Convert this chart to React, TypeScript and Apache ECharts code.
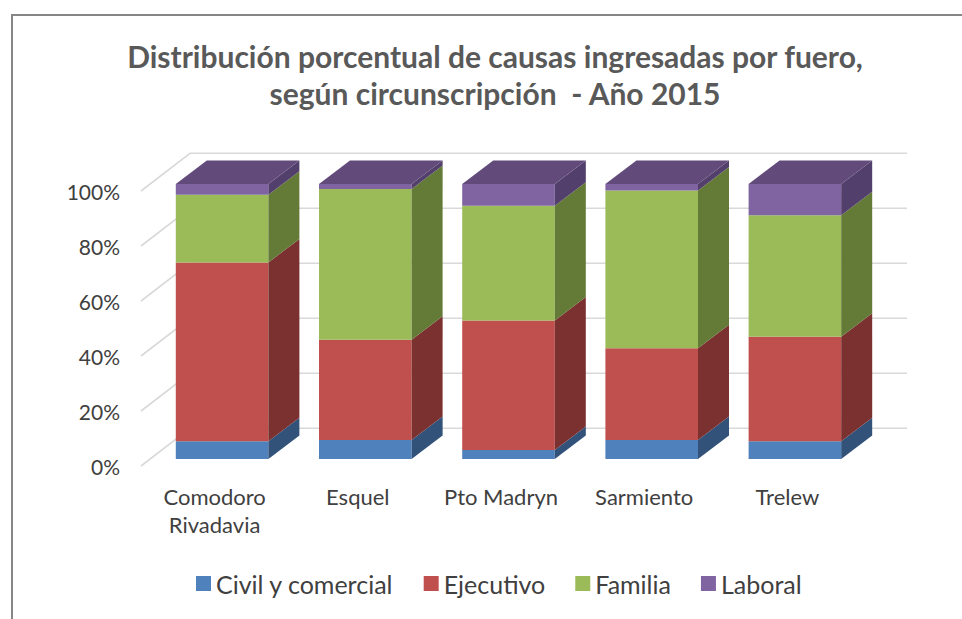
import React, { useEffect, useRef } from "react";
import * as echarts from "echarts";

const categories = ["Comodoro\nRivadavia", "Esquel", "Pto Madryn", "Sarmiento", "Trelew"];
const civil = [6.5, 6.9, 3.3, 6.9, 6.5];
const ejecutivo = [65.0, 36.5, 47.1, 33.4, 38.0];
const familia = [24.6, 54.8, 41.7, 57.3, 44.1];
const laboral = [3.9, 1.8, 7.9, 2.4, 11.4];
const gridTicks = [0, 20, 40, 60, 80, 100];
const seriesNames = ["Civil y comercial", "Ejecutivo", "Familia", "Laboral"];
const seriesValues = [civil, ejecutivo, familia, laboral];
const frontColors = ["#4F81BD", "#C0504D", "#9BBB59", "#8064A2"];
const sideColors = ["#32527A", "#7B3130", "#647A37", "#533F6B"];
const topColor = "#624B7A";

const FONT = "Lato, sans-serif";
const BAR_W = 92.6;
const DX = 31;
const DY = 23.5;
const OFF_X = 7.5;
const OFF_Y = 7;

function poly(points: number[][], fill: string) {
  return { type: "polygon", shape: { points }, style: { fill, stroke: "none" } };
}

export default function App() {
  const ref = useRef<HTMLDivElement>(null);
  useEffect(() => {
    const chart = echarts.init(ref.current!, undefined, { renderer: "svg" });

    const gridSeries = {
      type: "custom",
      silent: true,
      z: 1,
      data: gridTicks.map((t) => [0, t]),
      encode: { x: 0, y: 1 },
      renderItem: (params: any, api: any) => {
        const cs = params.coordSys;
        const p = api.coord([0, api.value(1)]);
        const y = p[1];
        const x0 = cs.x - 2;
        const x1 = x0 + 49;
        const y1 = y - 37.7;
        return {
          type: "polyline",
          shape: { points: [[x0, y], [x1, y1], [907, y1]] },
          style: { fill: "none", stroke: "#D9D9D9", lineWidth: 1.6 },
        };
      },
    };

    const barSeries = seriesNames.map((name, si) => ({
      type: "custom",
      name,
      z: 2,
      itemStyle: { color: frontColors[si] },
      encode: { x: 0, y: [1, 2] },
      data: categories.map((_, ci) => {
        let start = 0;
        for (let k = 0; k < si; k++) start += seriesValues[k][ci];
        return [ci, start, start + seriesValues[si][ci]];
      }),
      renderItem: (_p: any, api: any) => {
        const a = api.coord([api.value(0), api.value(1)]);
        const b = api.coord([api.value(0), api.value(2)]);
        const l = a[0] + OFF_X - BAR_W / 2;
        const r = l + BAR_W;
        const y0 = a[1] - OFF_Y;
        const y1 = b[1] - OFF_Y;
        const children: any[] = [
          poly([[l, y0], [r, y0], [r, y1], [l, y1]], frontColors[si]),
          poly([[r, y0], [r + DX, y0 - DY], [r + DX, y1 - DY], [r, y1]], sideColors[si]),
        ];
        if (si === seriesNames.length - 1) {
          children.push(poly([[l, y1], [r, y1], [r + DX, y1 - DY], [l + DX, y1 - DY]], topColor));
        }
        return { type: "group", children };
      },
    }));

    chart.setOption({
      animation: false,
      backgroundColor: "#FFFFFF",
      title: {
        text: "Distribución porcentual de causas ingresadas por fuero,\nsegún circunscripción  - Año 2015",
        left: 490,
        top: 32,
        textAlign: "center",
        textStyle: { fontFamily: FONT, fontSize: 30, fontWeight: "bold", color: "#595959", lineHeight: 37 },
      },
      legend: {
        data: seriesNames,
        left: 191,
        top: 566,
        itemWidth: 15,
        itemHeight: 15,
        itemGap: 30,
        icon: "rect",
        textStyle: { fontFamily: FONT, fontSize: 25, color: "#404040" },
      },
      grid: { left: 143, width: 716, top: 191, height: 275 },
      xAxis: {
        type: "category",
        data: categories,
        axisLine: { show: false },
        axisTick: { show: false },
        axisLabel: { fontFamily: FONT, fontSize: 22, color: "#404040", lineHeight: 28, margin: 16, interval: 0 },
      },
      yAxis: {
        type: "value",
        min: 0,
        max: 100,
        interval: 20,
        axisLine: { show: false },
        axisTick: { show: false },
        splitLine: { show: false },
        axisLabel: { fontFamily: FONT, fontSize: 21, color: "#404040", margin: 23, padding: [0, 0, 4, 0], formatter: "{value}%" },
      },
      series: [gridSeries, ...barSeries],
    });
    return () => chart.dispose();
  }, []);
  return (
    <div style={{ position: "absolute", left: 0, top: 0, width: 962, height: 619, background: "#fff", overflow: "hidden" }}>
      <div ref={ref} style={{ width: 962, height: 619 }} />
      <div style={{ position: "absolute", left: 11, top: 14, width: 1000, height: 700, border: "2px solid #868686", boxSizing: "border-box", pointerEvents: "none" }} />
    </div>
  );
}
